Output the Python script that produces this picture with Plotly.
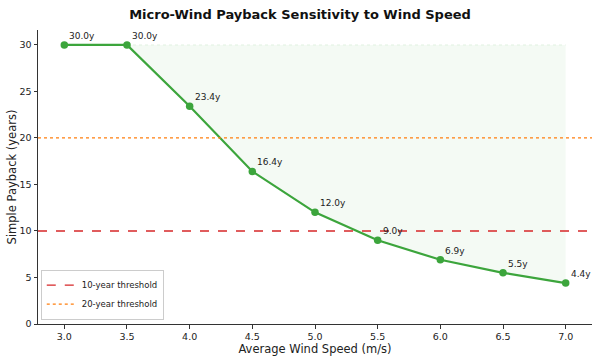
import plotly.graph_objects as go

wind_speed = [3.0, 3.5, 4.0, 4.5, 5.0, 5.5, 6.0, 6.5, 7.0]
payback = [30.0, 30.0, 23.4, 16.4, 12.0, 9.0, 6.9, 5.5, 4.4]
labels = [f"{v:.1f}y" for v in payback]
cap = 30.0
thresholds = [10, 20]
threshold_names = ["10-year threshold", "20-year threshold"]
threshold_colors = ["#d62728", "#ff7f0e"]
threshold_dash = ["dash", "dot"]

fill_x = [x for x, y in zip(wind_speed, payback) if x >= 3.5]
fill_y = [y for x, y in zip(wind_speed, payback) if x >= 3.5]

fig = go.Figure()
fig.add_trace(go.Scatter(x=fill_x, y=[cap] * len(fill_x), mode="lines",
                         line=dict(color="rgba(44,160,44,0.15)", width=0.8, dash="dot"),
                         showlegend=False, hoverinfo="skip"))
fig.add_trace(go.Scatter(x=fill_x, y=fill_y, mode="lines", fill="tonexty",
                         fillcolor="rgba(44,160,44,0.05)",
                         line=dict(width=0), showlegend=False, hoverinfo="skip"))
fig.add_trace(go.Scatter(x=wind_speed, y=payback, mode="lines+markers",
                         line=dict(color="#3ca53c", width=2.2),
                         marker=dict(color="#3ca53c", size=7.5),
                         showlegend=False))

for i, (t, n, c, d) in enumerate(zip(thresholds, threshold_names, threshold_colors, threshold_dash)):
    fig.add_shape(type="line", xref="paper", x0=0, x1=1, yref="y", y0=t, y1=t,
                  line=dict(color=c, width=1.4, dash=d), showlegend=True, name=n,
                  legendrank=1000 + i)

for x, y, s in zip(wind_speed, payback, labels):
    fig.add_annotation(x=x, y=y, text=s, showarrow=False, xanchor="left", yanchor="bottom",
                       xshift=3, yshift=2, font=dict(size=9, color="#222"))

fig.update_layout(
    width=600, height=360,
    margin=dict(l=38, r=8, t=30, b=36, autoexpand=False),
    paper_bgcolor="white", plot_bgcolor="white",
    font=dict(family="DejaVu Sans", color="#222"),
    title=dict(text="<b>Micro-Wind Payback Sensitivity to Wind Speed</b>", x=0.5, xanchor="center",
               yref="container", y=1 - 14 / 360, yanchor="middle", font=dict(size=13, color="#111")),
    showlegend=True,
    legend=dict(x=0.005, y=0.015, xanchor="left", yanchor="bottom", traceorder="normal",
                bgcolor="rgba(255,255,255,0.85)", bordercolor="#ccc", borderwidth=1,
                font=dict(size=8.5), tracegroupgap=0, itemwidth=30),
)
fig.update_xaxes(range=[2.79, 7.21], tickvals=[3.0, 3.5, 4.0, 4.5, 5.0, 5.5, 6.0, 6.5, 7.0],
                 ticktext=["3.0", "3.5", "4.0", "4.5", "5.0", "5.5", "6.0", "6.5", "7.0"],
                 showline=True, linecolor="#333", linewidth=1, ticks="outside", ticklen=3.5,
                 tickcolor="#333", showgrid=False, zeroline=False, tickfont=dict(size=9.5),
                 automargin=False,
                 title=dict(text="Average Wind Speed (m/s)", font=dict(size=11.5), standoff=2))
fig.update_yaxes(range=[0, 31.6], tickvals=[0, 5, 10, 15, 20, 25, 30],
                 showline=True, linecolor="#333", linewidth=1, ticks="outside", ticklen=3.5,
                 tickcolor="#333", showgrid=False, zeroline=False, tickfont=dict(size=9.5),
                 automargin=False,
                 title=dict(text="Simple Payback (years)", font=dict(size=11.5), standoff=0))

fig.write_html("out.html", config={"displayModeBar": False},
               post_script="document.body.style.margin='0';")
